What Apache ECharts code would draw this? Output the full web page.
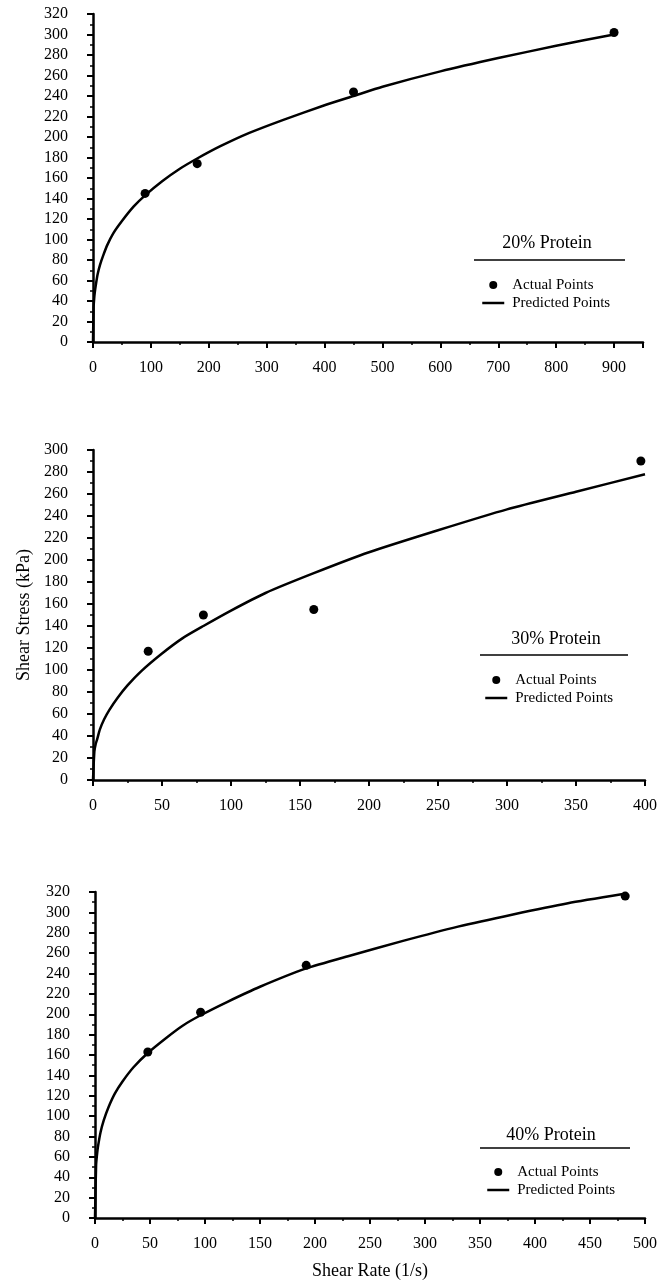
<!DOCTYPE html>
<html>
<head>
<meta charset="utf-8">
<script src="https://cdn.jsdelivr.net/npm/echarts@6/dist/echarts.min.js"></script>
<style>
  html, body { margin: 0; padding: 0; background: #fff; }
  #chart { width: 670px; height: 1287px; }
</style>
</head>
<body>
<div id="chart"></div>
<script>
// 20% protein
const rate20 = [90, 180, 450, 900];
const stress20 = [145, 174, 244, 302];
const predRate20 = [0, 1, 2, 3, 5, 8, 12, 18, 25, 35, 50, 70, 90, 120, 150, 180, 220, 270, 330, 400, 450, 500, 600, 700, 800, 900];
const predStress20 = [0, 34, 42, 48, 56, 66, 75, 85, 95, 106, 118, 132, 143, 157, 169, 179, 191, 204, 217, 231, 240, 249, 264, 277, 289, 300];

// 30% protein
const rate30 = [40, 80, 160, 397];
const stress30 = [117, 150, 155, 290];
const predRate30 = [0, 1, 2, 3, 5, 8, 12, 18, 25, 35, 50, 65, 80, 100, 125, 160, 200, 250, 300, 350, 400];
const predStress30 = [0, 26, 33, 37, 46, 55, 64, 75, 86, 99, 115, 129, 140, 154, 170, 188, 207, 227, 246, 262, 278];

// 40% protein
const rate40 = [48, 96, 192, 482];
const stress40 = [163, 202, 248, 316];
const predRate40 = [0, 1, 2, 3, 5, 8, 12, 18, 25, 35, 48, 65, 80, 96, 120, 150, 192, 230, 280, 330, 380, 430, 480];
const predStress40 = [0, 52, 64, 72, 84, 96, 108, 122, 134, 148, 162, 177, 189, 199, 212, 227, 245, 257, 272, 286, 298, 309, 318];

const panelTitles = ['20% Protein', '30% Protein', '40% Protein'];

const FONT = 'Liberation Serif';

const zip = (xs, ys) => xs.map((x, i) => [x, ys[i]]);

const panels = [
  { grid: { left: 93, top: 14, width: 550, height: 328 }, xMax: 950, yMax: 320,
    actual: zip(rate20, stress20), pred: zip(predRate20, predStress20),
    xInterval: 100, legendLeft: 476, legendTop: 271, titleX: 547, titleY: 243, lineX: [474, 625], lineY: 260 },
  { grid: { left: 93, top: 450, width: 552, height: 330 }, xMax: 400, yMax: 300,
    actual: zip(rate30, stress30), pred: zip(predRate30, predStress30),
    xInterval: 50, legendLeft: 479, legendTop: 666, titleX: 556, titleY: 639, lineX: [480, 628], lineY: 655 },
  { grid: { left: 95, top: 892, width: 550, height: 326 }, xMax: 500, yMax: 320,
    actual: zip(rate40, stress40), pred: zip(predRate40, predStress40),
    xInterval: 50, legendLeft: 481, legendTop: 1158, titleX: 551, titleY: 1135, lineX: [480, 630], lineY: 1148 }
];

const axisLine = { lineStyle: { color: '#000', width: 2.5 } };
const axisTick = { length: 6, lineStyle: { color: '#000', width: 2 } };
const minorTick = { show: true, splitNumber: 2, length: 3, lineStyle: { color: '#000', width: 1.5 } };
const labelStyle = { color: '#000', fontFamily: FONT, fontSize: 16 };

const option = {
  backgroundColor: '#fff',
  animation: false,
  grid: panels.map(p => p.grid),
  xAxis: panels.map((p, i) => ({
    gridIndex: i, type: 'value', min: 0, max: p.xMax, interval: p.xInterval,
    axisLine, axisTick, minorTick, splitLine: { show: false },
    axisLabel: Object.assign({ margin: 18, showMaxLabel: p.xMax % p.xInterval === 0 }, labelStyle),
    name: i === 2 ? 'Shear Rate (1/s)' : '',
    nameLocation: 'middle', nameGap: 44,
    nameTextStyle: { color: '#000', fontFamily: FONT, fontSize: 18 }
  })),
  yAxis: panels.map((p, i) => ({
    gridIndex: i, type: 'value', min: 0, max: p.yMax, interval: 20,
    axisLine, axisTick, minorTick, splitLine: { show: false },
    axisLabel: Object.assign({ margin: 25 }, labelStyle),
    name: i === 1 ? 'Shear Stress (kPa)' : '',
    nameLocation: 'middle', nameGap: 58,
    nameTextStyle: { color: '#000', fontFamily: FONT, fontSize: 18 }
  })),
  legend: panels.map(p => ({
    orient: 'vertical', left: p.legendLeft, top: p.legendTop,
    itemWidth: 22, itemHeight: 8, itemGap: 0,
    data: [
      { name: 'Actual Points', icon: 'circle' },
      { name: 'Predicted Points', itemStyle: { opacity: 0 }, lineStyle: { color: '#000', width: 2.5 } }
    ],
    selectedMode: false,
    textStyle: { color: '#000', fontFamily: FONT, fontSize: 15, lineHeight: 18, padding: [0, 0, 0, 3] }
  })),
  graphic: panels.flatMap((p, i) => [
    { type: 'text', x: p.titleX, y: p.titleY,
      style: { text: panelTitles[i], fill: '#000', font: '18px "Liberation Serif"',
               textAlign: 'center', textVerticalAlign: 'middle' } },
    { type: 'line', shape: { x1: p.lineX[0], y1: p.lineY, x2: p.lineX[1], y2: p.lineY },
      style: { stroke: '#000', lineWidth: 1.5 } }
  ]),
  series: panels.flatMap((p, i) => [
    { name: 'Predicted Points', type: 'line', xAxisIndex: i, yAxisIndex: i,
      data: p.pred, symbol: 'none', smooth: 0.2,
      lineStyle: { color: '#000', width: 2.5 }, itemStyle: { color: '#000' }, z: 2 },
    { name: 'Actual Points', type: 'scatter', xAxisIndex: i, yAxisIndex: i,
      data: p.actual, symbol: 'circle', symbolSize: 9,
      itemStyle: { color: '#000', opacity: 1 }, z: 3 }
  ])
};

const chart = echarts.init(document.getElementById('chart'));
chart.setOption(option);
</script>
</body>
</html>
